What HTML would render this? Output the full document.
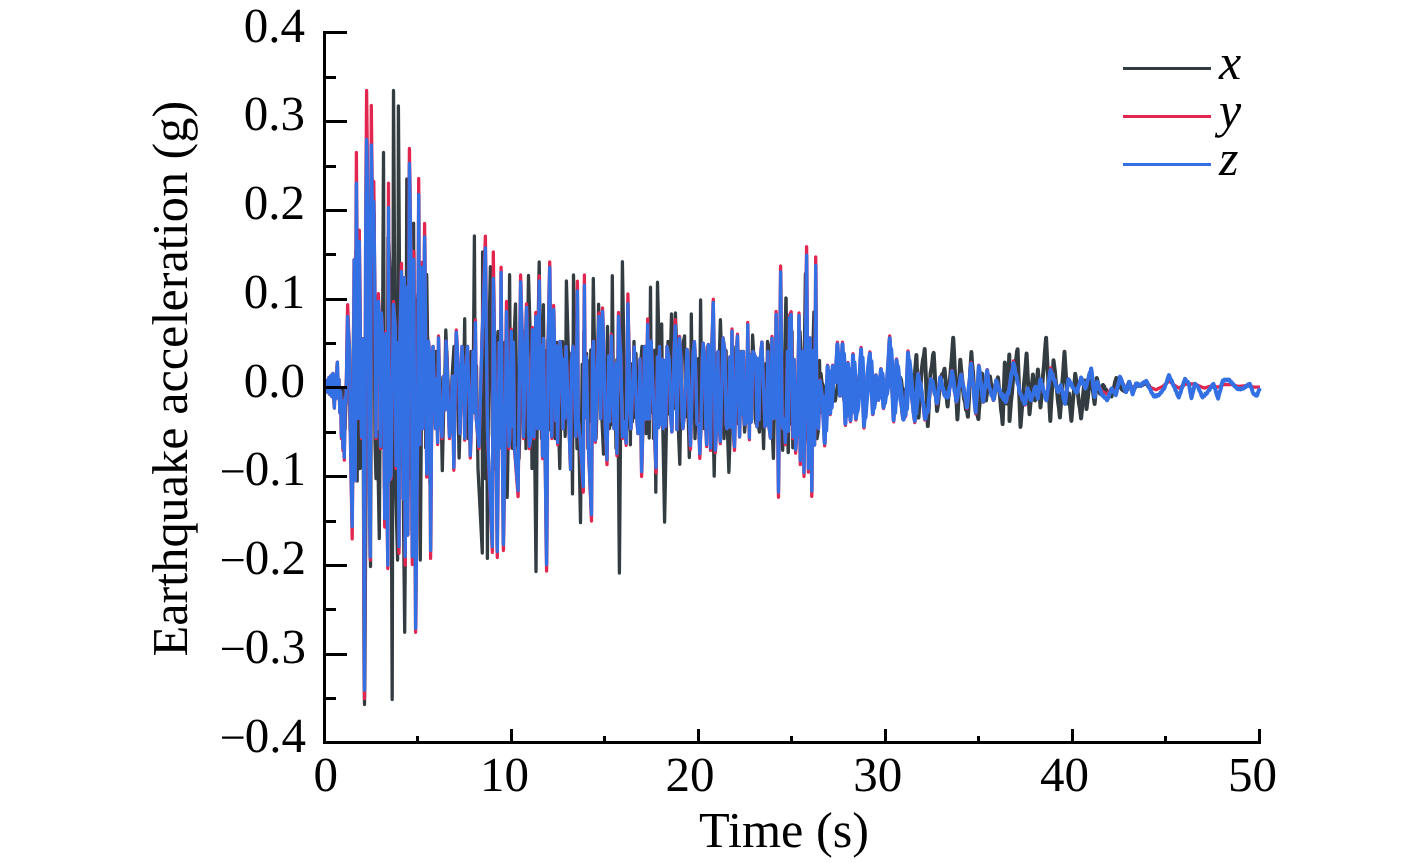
<!DOCTYPE html>
<html><head><meta charset="utf-8"><title>Earthquake acceleration</title>
<style>
html,body{margin:0;padding:0;background:#fff;}
body{width:1418px;height:863px;overflow:hidden;}
svg{display:block;}
text{font-family:"Liberation Serif",serif;fill:#000;text-rendering:geometricPrecision;}
.t{font-size:49px;}
.l{font-size:50.3px;}
.i{font-size:50px;font-style:italic;}
.w2{stroke-width:4 !important;}
.w{fill:none;stroke-width:3.3;stroke-linejoin:round;stroke-linecap:butt;}
</style></head><body>
<svg width="1418" height="863" viewBox="0 0 1418 863">
<rect width="1418" height="863" fill="#fff"/>
<polyline class="w" stroke="#333d41" points="325.0,386.0 327.0,390.0 329.0,382.0 331.0,391.0 333.0,383.0 335.0,392.6 337.0,379.4 339.0,392.0 341.0,397.6 343.0,388.0 345.0,428.6 346.0,401.4 347.0,365.8 348.0,331.4 349.1,357.7 350.3,429.0 352.0,448.6 353.7,315.5 354.7,461.0 356.0,251.4 357.2,481.0 358.2,244.1 359.2,431.2 360.0,468.6 361.5,458.2 362.7,338.7 364.5,704.6 365.8,522.3 367.0,260.0 368.0,301.4 369.2,226.2 370.5,566.6 371.6,245.1 373.0,216.4 374.0,213.1 375.0,442.2 376.0,478.6 377.4,431.4 379.3,538.6 380.8,324.1 382.0,447.5 383.5,152.4 384.5,488.5 385.7,357.8 387.0,428.6 388.2,237.5 389.5,259.4 390.5,289.1 392.2,699.6 393.5,90.4 395.0,329.1 396.0,498.6 397.6,560.1 398.4,105.8 399.9,332.6 401.0,468.6 402.5,318.4 403.4,506.3 404.7,632.3 405.6,507.6 406.8,178.9 407.8,496.3 408.9,249.5 410.0,478.6 411.3,266.0 412.3,530.6 413.6,223.1 414.8,501.9 415.9,299.2 417.0,498.6 418.1,294.1 419.2,446.9 420.3,560.1 421.2,439.2 422.3,305.2 423.5,301.4 424.6,293.7 425.7,447.7 426.7,274.5 427.5,335.1 429.2,361.8 430.2,483.7 431.0,438.6 436.0,351.4 437.7,378.8 438.9,411.7 440.1,376.9 441.1,408.4 442.3,470.6 443.6,411.6 444.9,374.7 445.8,330.0 450.0,428.6 451.0,407.5 452.3,373.5 454.0,346.4 455.7,407.8 456.9,378.5 458.1,410.9 459.1,458.0 460.6,411.1 461.9,376.7 463.2,404.6 464.7,318.7 465.5,411.4 466.8,377.0 468.0,438.6 469.3,375.9 471.0,351.4 471.9,377.5 473.0,408.9 474.4,235.8 475.3,413.3 476.5,365.9 478.0,468.6 482.3,553.0 482.6,251.8 485.0,478.6 486.6,348.4 487.4,558.4 488.8,344.6 490.4,266.6 491.3,345.8 492.4,434.1 494.0,468.6 495.0,436.0 496.3,356.4 498.0,331.4 502.0,448.6 503.4,439.7 504.6,342.2 505.9,445.3 507.2,497.4 508.3,433.0 509.6,274.7 510.6,423.1 511.7,358.7 512.5,448.6 513.8,344.0 515.5,303.8 517.2,441.0 519.0,458.6 523.0,331.4 524.5,350.9 526.0,448.6 528.5,275.5 530.9,357.7 532.0,468.6 533.4,353.9 534.4,421.6 536.0,571.6 537.7,349.5 539.2,261.8 541.5,438.6 543.4,304.6 544.7,434.6 545.7,350.8 547.0,468.6 548.0,340.3 549.1,429.9 551.0,331.4 552.6,355.9 553.6,432.7 555.0,438.6 555.9,419.0 557.0,342.3 558.3,418.1 559.8,468.5 560.6,419.3 561.7,356.7 562.5,341.4 565.2,436.4 566.4,280.8 568.4,353.8 570.0,438.6 571.0,353.7 572.5,493.9 573.5,274.9 577.0,448.6 578.5,418.0 580.5,522.7 582.2,364.2 583.2,411.9 584.0,331.4 585.7,417.7 586.6,353.3 588.0,448.6 588.8,360.9 589.8,421.4 590.8,349.9 592.0,417.6 593.3,278.3 596.0,438.6 596.9,414.2 598.6,304.2 602.0,420.5 603.5,454.1 604.3,417.4 605.4,361.7 606.7,410.6 607.5,326.4 609.5,428.6 610.3,355.9 611.3,424.8 612.3,275.7 613.6,413.8 614.9,364.3 616.0,448.6 616.9,359.5 618.0,410.3 619.4,573.1 620.6,424.0 621.6,358.7 622.4,261.7 624.1,364.0 625.1,414.6 626.0,438.6 627.5,416.0 628.9,352.4 630.4,444.8 631.2,363.9 632.4,421.7 634.0,341.4 634.9,417.5 636.0,353.5 638.0,428.6 639.5,413.5 640.8,361.4 642.0,346.4 643.1,363.3 646.0,433.6 646.9,414.2 648.1,353.3 649.2,438.1 650.5,287.2 651.4,412.2 652.5,351.6 653.5,438.6 654.7,350.2 655.8,492.2 657.5,282.2 659.2,352.2 660.0,418.6 661.7,324.0 662.7,421.3 664.6,522.2 668.0,341.4 669.1,413.8 670.4,360.1 671.5,313.8 672.6,363.6 673.5,408.6 675.4,313.0 677.1,357.5 678.2,424.9 679.8,464.3 680.6,416.7 681.6,350.6 684.6,335.8 685.6,416.7 686.9,352.6 688.1,413.4 689.3,457.5 690.5,421.9 691.3,313.8 692.6,416.6 693.8,362.5 695.0,438.6 698.3,358.7 699.6,421.4 700.6,299.8 701.9,421.6 702.9,358.9 704.0,428.6 705.0,359.4 706.3,425.0 708.0,346.4 709.8,350.7 710.8,423.9 711.8,352.4 714.2,476.1 715.3,411.3 716.6,353.3 717.9,414.4 719.2,360.7 720.4,319.7 721.4,350.8 722.6,410.7 724.0,438.6 725.0,414.1 726.1,350.6 727.1,421.5 728.9,472.4 733.0,346.4 736.7,418.7 738.0,423.6 739.1,411.6 740.1,353.9 741.0,351.4 742.5,353.3 743.7,412.1 744.6,432.1 746.1,413.3 747.2,362.4 748.0,351.4 749.6,357.0 750.6,420.2 752.6,335.0 754.2,362.9 755.2,419.2 756.0,423.6 757.7,422.1 759.4,432.1 760.2,415.9 761.5,351.4 762.4,413.4 763.6,448.7 764.4,413.4 765.7,363.7 766.7,418.7 767.5,341.4 770.4,354.1 771.6,415.0 773.4,458.4 775.3,361.7 777.0,346.4 777.8,352.2 778.9,417.3 782.7,450.4 785.9,297.8 786.1,298.1 788.1,452.4 788.3,452.5 789.5,359.6 790.7,423.8 792.0,331.4 792.8,447.8 794.2,362.7 796.0,438.6 797.9,434.5 799.2,360.6 800.0,331.4 801.3,359.6 803.0,458.6 805.4,273.7 806.2,358.7 807.3,435.1 809.0,448.6 810.5,351.1 811.7,436.2 812.7,356.7 813.9,311.8 814.7,362.2 815.9,437.2 817.0,438.6 818.2,431.8 819.5,360.5 820.6,412.4 821.0,373.4 822.0,382.9 823.0,386.5"/>
<polyline class="w w2" stroke="#333d41" points="822.0,382.9 823.0,386.5 824.0,398.2 825.0,403.6 826.0,395.8 827.0,393.5 828.0,385.1 829.0,383.2 830.0,375.4 831.0,378.3 832.0,386.7 833.0,388.9 834.0,396.9 835.0,400.6 836.0,393.4 837.0,390.8 838.0,382.9 839.0,380.2 840.0,373.4 841.0,377.3 842.0,386.4 843.0,388.9 844.0,398.0 845.0,402.6 846.0,396.1 847.0,393.2 848.0,384.8 849.0,383.0 850.0,376.4 851.0,379.1 852.0,388.1 853.0,389.5 854.0,397.9 855.0,400.6 856.0,393.3 857.0,391.0 858.0,382.1 859.0,380.7 860.0,373.4 861.0,377.2 862.0,386.5 863.0,389.4 864.0,398.0 865.0,402.6 866.0,396.2 867.0,393.6 868.0,385.1 869.0,382.7 870.0,376.4 871.0,379.4 872.0,386.7 873.0,387.7 874.0,395.8 875.0,398.6 876.0,393.1 877.0,392.8 878.0,385.9 879.0,385.4 880.0,379.4 881.0,380.9 882.0,388.3 883.0,388.6 884.0,395.1 885.0,396.6 886.0,390.2 887.0,388.4 888.0,381.5 889.0,379.3 890.0,373.4 891.0,377.5 892.0,386.2 893.0,387.6 894.0,397.3 895.0,400.6 896.0,394.5 897.0,393.0 898.0,384.7 899.0,383.3 900.0,377.4 901.0,379.7 902.0,387.9 903.0,389.0 904.0,396.5 905.0,398.6 906.0,393.3 907.0,392.7 908.0,385.0 909.0,384.7 910.0,379.4 911.0,382.8 912.0,391.0 913.0,394.6 914.0,381.7 915.0,372.5 916.4,355.0 917.0,371.1 918.5,417.7 920.0,395.7 921.5,371.4 923.0,359.4 924.0,355.3 924.7,349.0 926.0,379.3 927.0,407.8 927.8,426.1 929.0,401.5 930.5,373.4 932.0,365.4 933.0,355.4 933.7,352.9 935.0,377.7 936.0,391.2 937.0,410.9 938.0,405.0 939.0,393.9 940.0,388.9 941.0,379.4 942.0,374.3 943.0,374.8 944.5,368.8 946.0,385.1 947.0,401.5 947.6,406.6 949.0,388.9 950.5,373.4 952.0,355.0 953.2,337.7 954.0,352.0 955.0,374.2 956.0,390.0 957.4,419.4 958.0,408.8 959.0,384.8 960.3,359.7 961.0,368.3 962.0,376.2 963.0,390.0 964.0,398.6 965.0,401.8 966.0,409.9 967.0,410.6 967.9,416.8 969.0,398.3 970.0,376.0 971.4,352.1 972.0,362.1 973.0,372.2 974.0,388.8 975.0,400.6 976.0,404.2 977.0,412.8 978.4,419.0 979.0,409.6 980.0,400.5 981.0,385.0 982.0,373.4 983.0,381.6 984.0,385.2 985.0,395.4 986.0,400.6 987.0,392.7 988.0,390.5 989.0,381.0 990.0,376.4 991.0,383.9 992.0,385.5 993.0,394.5 994.0,398.6 995.0,391.2 996.0,389.9 997.0,380.5 998.0,377.4 999.0,389.2 1000.0,396.0 1001.0,409.1 1002.0,416.0 1002.6,424.1 1004.0,386.6 1004.8,362.6 1006.0,383.1 1007.0,403.6 1008.0,383.6 1009.3,354.6 1009.5,421.1 1011.0,401.6 1012.0,392.7 1013.5,373.4 1015.0,363.0 1016.0,360.4 1017.0,351.8 1017.6,349.3 1019.0,388.1 1020.5,426.9 1022.0,407.3 1023.0,398.3 1024.0,383.8 1025.0,374.1 1026.6,353.5 1028.0,381.8 1029.5,414.2 1031.0,397.8 1032.0,384.2 1032.9,374.6 1034.0,389.4 1035.0,400.6 1036.0,388.5 1037.0,380.3 1037.9,369.6 1039.0,384.8 1040.5,407.4 1042.0,389.9 1043.0,375.4 1044.0,365.3 1045.0,350.3 1046.1,337.7 1047.0,356.8 1048.0,374.5 1049.0,396.4 1050.3,420.9 1051.0,406.4 1052.0,390.2 1053.5,360.3 1055.0,372.3 1056.0,383.9 1057.0,390.6 1058.0,401.4 1059.0,408.3 1059.9,417.5 1061.0,403.2 1062.0,386.1 1063.0,374.4 1064.5,351.8 1066.0,377.0 1067.5,403.6 1069.0,393.6 1070.0,405.7 1071.4,420.9 1073.0,400.2 1074.0,389.6 1075.2,373.8 1076.0,379.0 1077.0,388.6 1078.0,394.1 1079.0,403.7 1080.0,408.9 1081.1,418.4 1082.0,409.2 1083.0,396.1 1084.5,380.6 1086.5,409.1 1088.0,396.6 1089.0,386.1 1090.5,373.4 1092.0,385.5 1093.0,391.3 1094.6,404.0 1096.0,388.4 1096.8,378.0 1098.0,383.1 1099.0,389.4 1100.0,393.6 1101.0,389.8 1102.0,388.5 1103.0,385.0 1104.0,386.2 1105.0,389.5 1106.0,389.6 1107.0,392.0 1108.0,393.7 1109.0,393.1 1110.0,395.7 1111.6,396.4 1113.0,390.0 1114.0,387.7 1115.0,382.3 1116.3,378.0 1117.0,380.1 1118.0,380.9 1119.0,384.5 1120.0,385.2 1121.0,388.0 1122.0,389.6 1123.0,389.1 1124.0,391.0 1125.0,390.5 1126.0,392.0 1127.0,389.6 1128.0,384.6 1129.0,382.0 1130.0,385.5 1131.0,386.6 1132.0,390.7 1133.0,392.6 1134.0,388.9 1135.0,387.6 1136.0,384.0 1137.0,383.8 1138.0,385.7 1139.0,384.6 1140.0,386.0 1141.0,386.0 1142.0,383.9 1143.0,384.7 1144.0,382.7 1145.0,383.8 1146.0,382.4 1147.0,383.2 1148.0,386.1 1149.0,385.6 1150.0,388.0"/>
<polyline class="w" stroke="#e2264f" points="325.0,385.0 326.0,391.0 327.0,380.4 328.0,392.6 329.0,377.4 330.0,394.6 331.0,375.4 332.0,396.6 333.0,373.4 333.8,398.6 334.4,408.0 335.2,375.4 336.0,398.6 336.7,373.4 337.4,362.1 338.2,396.6 339.0,379.4 339.8,412.6 340.6,392.0 341.4,438.6 342.2,400.6 343.0,450.6 343.7,406.6 344.3,460.2 345.2,396.6 346.0,403.1 347.6,304.6 349.5,350.9 350.6,449.0 352.2,538.9 353.0,438.4 354.2,259.6 355.2,480.7 356.4,152.4 358.0,418.6 359.3,230.2 361.5,438.6 363.2,339.0 364.5,698.6 365.6,242.7 366.6,90.4 368.0,214.3 369.0,468.6 370.3,560.1 371.3,105.3 372.4,213.9 373.8,181.4 374.7,276.5 376.0,438.6 376.9,308.5 378.4,293.6 379.2,316.9 380.5,448.6 381.4,313.0 382.6,335.1 383.7,355.5 384.7,527.1 386.0,331.4 386.9,488.9 387.8,568.6 388.5,183.1 389.3,480.5 391.0,478.6 393.5,301.4 395.2,326.3 396.0,468.6 397.7,343.0 399.0,553.3 399.8,340.8 401.5,263.4 403.2,499.0 404.3,277.7 405.2,565.2 406.8,287.2 407.8,535.0 409.4,148.4 411.4,287.8 412.3,564.6 413.8,251.4 415.6,632.3 417.4,462.5 418.7,178.4 419.8,444.5 421.6,262.4 422.8,428.6 424.6,223.4 425.4,302.3 426.7,477.1 427.5,357.3 428.5,341.4 429.6,356.3 430.6,558.4 432.1,362.9 433.0,346.4 435.5,428.6 436.6,378.4 437.6,444.5 438.5,336.0 440.1,413.4 442.0,438.6 443.9,376.0 445.1,409.9 446.1,341.0 449.5,438.6 451.2,414.4 452.5,376.2 453.8,470.3 456.3,330.0 458.9,378.3 460.0,433.6 462.0,346.4 463.7,377.3 464.7,440.2 465.8,376.5 467.5,346.4 468.3,373.2 469.4,407.1 470.3,458.0 471.7,414.0 473.0,351.4 474.0,412.3 475.4,319.9 476.3,419.1 479.0,448.6 482.0,341.4 485.4,236.1 486.5,348.4 487.5,430.6 488.5,458.6 492.4,552.4 493.3,251.8 494.7,353.5 495.8,425.0 497.3,557.6 499.2,342.4 500.3,447.2 501.1,267.1 502.3,440.2 503.4,550.6 504.9,448.1 506.5,301.3 509.0,448.6 509.8,438.0 511.3,329.2 512.3,426.0 513.4,342.1 514.5,448.6 518.1,496.6 520.6,275.0 522.3,340.7 523.5,438.6 526.5,303.8 527.5,347.0 528.6,432.6 529.5,448.6 530.9,436.2 532.4,327.5 534.0,438.6 535.8,312.3 537.5,428.6 539.2,275.9 540.1,428.8 541.2,346.2 542.5,458.6 543.5,338.4 544.8,427.6 546.6,571.1 548.2,339.0 549.7,261.8 551.8,438.6 553.6,305.5 554.7,350.0 555.8,420.7 556.8,345.9 557.6,444.8 560.0,341.4 561.6,359.6 563.0,428.6 564.0,359.3 565.0,418.2 566.0,346.4 570.6,469.4 571.4,361.7 573.0,346.4 573.8,362.4 575.9,436.4 577.4,281.1 578.3,419.7 580.0,438.6 583.3,492.2 584.4,274.9 585.3,416.7 586.4,356.6 588.0,438.6 591.5,521.0 592.5,351.7 593.5,341.4 595.4,442.3 599.0,313.0 600.7,418.6 602.5,307.9 603.9,351.1 605.2,425.8 607.0,464.6 608.7,356.0 609.7,421.7 611.4,334.1 614.0,428.6 615.8,363.1 616.9,455.8 618.5,312.4 620.8,357.5 622.5,438.6 624.1,421.7 626.2,445.3 627.9,294.0 629.0,351.4 630.0,414.1 631.0,428.6 634.3,346.8 636.7,418.2 638.0,433.6 638.9,420.5 640.0,358.8 641.6,476.5 643.3,412.3 644.5,346.4 645.9,419.1 647.7,318.9 648.5,419.0 649.5,418.6 651.2,340.9 656.0,472.8 657.5,356.8 658.7,427.5 659.5,346.4 661.1,424.0 662.2,359.2 663.0,428.6 664.7,360.5 665.7,426.2 667.0,346.4 669.3,359.2 670.5,413.1 671.9,431.8 674.0,352.7 675.3,319.7 676.9,429.6 678.6,353.5 679.5,336.4 680.9,357.6 682.1,416.7 683.0,428.6 684.4,413.1 687.0,349.4 688.1,354.5 689.2,416.3 690.5,449.1 693.1,352.9 694.4,341.7 695.4,361.2 697.0,423.6 698.8,426.1 699.8,458.4 701.0,426.5 702.3,357.7 703.2,343.1 704.5,354.5 705.8,424.9 706.6,446.5 708.3,344.3 709.4,354.4 710.5,450.4 711.7,350.9 713.3,299.1 715.4,452.5 716.6,425.9 718.0,351.4 718.8,415.4 720.4,443.7 723.0,338.0 724.9,350.3 726.1,424.4 727.0,428.6 728.5,422.9 729.8,356.8 730.8,427.4 732.0,329.0 733.1,427.0 734.5,450.3 735.3,414.4 736.3,354.2 737.5,334.1 739.6,436.9 741.1,352.0 742.2,414.5 743.5,351.4 744.4,424.6 745.5,423.6 746.8,420.3 747.7,322.3 749.4,439.8 750.2,355.2 751.3,422.0 753.0,351.4 755.7,357.6 757.0,426.6 757.9,358.4 759.0,419.8 760.2,359.2 761.9,342.1 765.0,426.6 766.4,423.0 768.0,351.4 768.8,425.2 770.5,438.1 772.0,336.3 774.0,418.6 775.2,414.8 776.1,311.3 777.7,416.5 778.5,497.3 780.6,265.9 782.2,422.0 783.0,428.6 784.3,418.8 785.3,444.8 786.3,417.0 787.5,351.4 788.5,431.1 789.5,315.5 791.2,311.8 793.0,438.6 794.1,359.3 795.6,453.2 797.2,428.4 799.0,313.0 800.3,464.7 802.0,351.4 803.1,351.2 804.0,476.6 806.6,246.6 808.4,472.2 810.1,338.0 811.8,496.4 813.3,350.3 814.6,445.1 815.7,256.8 817.0,424.0 818.5,428.6 820.0,380.0 822.5,398.1 824.7,445.8 827.6,365.2 830.2,414.7 832.7,365.2 835.2,380.0 837.4,342.1 840.0,396.0 842.5,342.1 845.4,425.4 847.9,362.5 850.5,421.8 853.0,353.7 855.9,420.0 858.6,393.1 861.1,347.4 864.0,428.0 867.4,375.0 869.9,351.9 872.8,414.7 875.9,375.0 878.4,400.4 880.9,368.7 883.5,408.5 886.9,384.1 889.7,335.8 893.6,421.8 896.5,358.9 899.6,391.3 902.9,419.1 905.5,416.5 908.0,351.0 911.4,394.9 914.8,422.7 918.2,373.2 921.6,391.3 924.9,420.0 928.3,409.3 930.9,378.6 933.7,387.7 937.1,404.0 940.2,376.8 944.4,395.2 948.6,396.0 952.0,370.5 956.3,402.2 961.3,374.1 966.9,408.5 971.2,362.5 975.7,413.8 978.8,365.2 983.3,402.2 987.2,369.7 989.3,387.7 993.5,400.4 996.0,380.3 1000.3,393.1 1006.2,402.2 1010.0,384.0 1013.4,361.0 1020.2,393.6 1025.2,405.0 1027.8,388.5 1031.2,400.3 1035.4,386.8 1037.9,398.6 1040.5,379.2 1046.4,400.3 1050.6,368.0 1058.2,391.9 1060.8,385.1 1065.0,403.7 1068.4,379.2 1073.5,388.5 1076.9,392.7 1081.1,377.5 1085.3,388.5 1091.2,368.5 1094.6,396.9 1097.2,381.7 1101.4,391.0 1107.0,394.0 1111.6,388.5 1115.8,392.0 1120.0,378.0 1125.9,389.0 1129.3,383.0 1132.7,391.0 1136.1,384.0 1140.3,386.0 1146.3,382.0 1150.0,387.2 1155.9,389.8 1162.7,386.4 1169.0,381.0 1172.8,384.0 1178.8,388.1 1186.4,383.8 1194.8,384.0 1204.1,388.1 1212.7,385.5 1217.7,387.2 1223.6,384.7 1232.0,384.7 1238.0,386.4 1249.8,385.5 1254.0,387.2 1260.0,387.2"/>
<polyline class="w" stroke="#3370e4" points="325.0,385.0 326.0,391.0 327.0,380.4 328.0,392.6 329.0,377.4 330.0,394.6 331.0,375.4 332.0,396.6 333.0,373.4 333.8,398.6 334.4,408.0 335.2,375.4 336.0,398.6 336.7,373.4 337.4,362.1 338.2,396.6 339.0,379.4 339.8,412.6 340.6,392.0 341.4,436.8 342.2,400.6 343.0,448.3 343.7,406.6 344.3,457.6 345.2,396.6 346.0,403.1 347.6,316.4 349.5,350.9 350.6,449.0 352.2,526.6 353.0,438.4 354.2,259.6 355.2,480.7 356.4,183.1 358.0,418.6 359.3,241.4 361.5,436.8 363.2,339.0 364.5,690.2 365.6,242.7 366.6,139.4 368.0,214.3 369.0,465.7 370.3,557.1 371.3,145.0 372.4,213.9 373.8,201.4 374.7,276.5 376.0,436.8 376.9,308.5 378.4,301.4 379.2,316.9 380.5,446.4 381.4,313.0 382.6,337.0 383.7,355.5 384.7,518.6 386.0,333.4 386.9,488.9 387.8,565.2 388.5,207.4 389.3,480.5 391.0,475.4 393.5,304.5 395.2,326.3 396.0,465.7 397.7,343.0 399.0,546.6 399.8,340.8 401.5,271.4 403.2,499.0 404.3,277.7 405.2,556.6 406.8,287.2 407.8,535.0 409.4,163.4 411.4,287.8 412.3,556.6 413.8,259.4 415.6,628.4 417.4,462.5 418.7,194.4 419.8,444.5 421.6,267.4 422.8,428.6 424.6,236.9 425.4,302.3 426.7,473.9 427.5,357.3 428.5,341.4 429.6,356.3 430.6,550.6 432.1,362.9 433.0,346.4 435.5,428.6 436.6,378.4 437.6,442.5 438.5,337.9 440.1,413.4 442.0,436.8 443.9,376.0 445.1,409.9 446.1,341.0 449.5,436.8 451.2,414.4 452.5,376.2 453.8,467.4 456.3,332.1 458.9,378.3 460.0,433.6 462.0,346.4 463.7,377.3 464.7,438.3 465.8,376.5 467.5,346.4 468.3,373.2 469.4,407.1 470.3,455.5 471.7,414.0 473.0,351.4 474.0,412.3 475.4,322.3 476.3,419.1 479.0,446.4 482.0,341.4 485.4,247.9 486.5,348.4 487.5,430.6 488.5,456.1 492.4,546.6 493.3,278.4 494.7,353.5 495.8,425.0 497.3,551.6 499.2,342.4 500.3,447.2 501.1,272.4 502.3,440.2 503.4,544.6 504.9,448.1 506.5,311.4 509.0,446.4 509.8,438.0 511.3,331.3 512.3,426.0 513.4,342.1 514.5,446.4 518.1,490.6 520.6,281.8 522.3,340.7 523.5,436.8 526.5,307.4 527.5,347.0 528.6,432.6 529.5,446.4 530.9,436.2 532.4,329.6 534.0,436.8 535.8,316.4 537.5,428.6 539.2,280.9 540.1,428.8 541.2,346.2 542.5,456.1 543.5,338.4 544.8,427.6 546.6,564.6 548.2,339.0 549.7,267.4 551.8,436.8 553.6,309.4 554.7,350.0 555.8,420.7 556.8,345.9 557.6,442.7 560.0,341.4 561.6,359.6 563.0,428.6 564.0,359.3 565.0,418.2 566.0,346.4 570.6,469.4 571.4,361.7 573.0,346.4 573.8,362.4 575.9,436.4 577.4,291.0 578.3,419.7 580.0,436.8 583.3,486.6 584.4,285.4 585.3,416.7 586.4,356.6 588.0,436.8 591.5,514.6 592.5,351.7 593.5,341.4 595.4,440.3 599.0,316.4 600.7,418.6 602.5,311.4 603.9,351.1 605.2,425.8 607.0,459.6 608.7,356.0 609.7,421.7 611.4,336.0 614.0,428.6 615.8,363.1 616.9,453.4 618.5,316.4 620.8,357.5 622.5,436.8 624.1,421.7 626.2,443.2 627.9,303.6 629.0,351.4 630.0,414.1 631.0,428.6 634.3,346.8 636.7,418.2 638.0,433.6 638.9,420.5 640.0,358.8 641.6,471.6 643.3,412.3 644.5,346.4 645.9,419.1 647.7,324.4 648.5,419.0 649.5,418.6 651.2,340.9 656.0,467.6 657.5,356.8 658.7,427.5 659.5,346.4 661.1,424.0 662.2,359.2 663.0,428.6 664.7,360.5 665.7,426.2 667.0,346.4 669.3,359.2 670.5,413.1 671.9,431.8 674.0,352.7 675.3,325.7 676.9,429.6 678.6,353.5 679.5,338.2 680.9,357.6 682.1,416.7 683.0,428.6 684.4,413.1 687.0,349.4 688.1,354.5 689.2,416.3 690.5,445.6 693.1,352.9 694.4,341.7 695.4,361.2 697.0,423.6 698.8,426.1 699.8,453.6 701.0,426.5 702.3,357.7 703.2,343.1 704.5,354.5 705.8,424.9 706.6,444.4 708.3,344.3 709.4,354.4 710.5,448.1 711.7,350.9 713.3,302.4 715.4,450.2 716.6,425.9 718.0,351.4 718.8,415.4 720.4,441.7 723.0,338.0 724.9,350.3 726.1,424.4 727.0,428.6 728.5,422.9 729.8,356.8 730.8,427.4 732.0,331.1 733.1,427.0 734.5,446.6 735.3,414.4 736.3,354.2 737.5,336.0 739.6,436.9 741.1,352.0 742.2,414.5 743.5,351.4 744.4,424.6 745.5,423.6 746.8,420.3 747.7,324.6 749.4,437.9 750.2,355.2 751.3,422.0 753.0,351.4 755.7,357.6 757.0,426.6 757.9,358.4 759.0,419.8 760.2,359.2 761.9,342.1 765.0,426.6 766.4,423.0 768.0,351.4 768.8,425.2 770.5,438.1 772.0,338.1 774.0,418.6 775.2,414.8 776.1,314.4 777.7,416.5 778.5,492.1 780.6,271.8 782.2,422.0 783.0,428.6 784.3,418.8 785.3,442.7 786.3,417.0 787.5,351.4 788.5,431.1 789.5,318.1 791.2,314.4 793.0,436.8 794.1,359.3 795.6,449.6 797.2,428.4 799.0,315.4 800.3,460.6 802.0,351.4 803.1,351.2 804.0,472.6 806.6,255.1 808.4,468.6 810.1,338.0 811.8,491.1 813.3,350.3 814.6,445.1 815.7,265.3 817.0,424.0 818.5,428.6 820.0,380.4 822.5,397.6"/>
<polyline class="w w2" stroke="#3370e4" points="824.0,395.4 825.0,413.0 826.2,430.8 827.0,412.7 828.0,395.3 829.1,371.0 830.0,382.7 831.0,399.7 831.7,407.7 833.0,387.3 834.2,371.0 835.0,376.0 836.0,377.0 836.7,382.0 838.0,367.0 838.9,353.8 840.0,369.1 841.5,393.8 843.0,371.6 844.0,353.8 845.0,374.1 846.0,398.2 846.9,415.7 848.0,393.8 849.4,368.9 850.0,381.0 851.0,394.6 852.0,413.0 853.0,394.7 854.5,362.4 856.0,386.5 857.4,411.7 858.0,408.7 859.0,397.8 860.1,391.6 861.0,380.5 862.0,364.7 862.6,357.7 864.0,388.6 865.5,417.6 867.0,398.9 868.0,390.2 868.9,378.2 870.0,369.3 871.4,361.1 872.0,372.3 873.0,384.9 874.3,407.7 875.0,403.0 876.0,389.7 877.4,378.2 878.0,384.4 879.0,389.1 879.9,397.1 881.0,388.7 882.4,373.5 883.0,378.8 884.0,393.5 885.0,403.1 886.0,395.9 887.0,394.1 888.4,385.0 889.0,376.2 890.0,366.4 891.2,349.1 892.0,361.1 893.0,380.4 894.0,393.6 895.1,413.0 896.0,399.8 897.0,380.6 898.0,366.3 899.0,375.1 900.0,380.1 901.1,390.3 902.0,397.7 903.0,400.9 904.4,411.0 905.0,412.5 906.0,408.3 907.0,409.0 908.0,390.9 909.5,360.4 911.0,373.7 912.0,385.5 912.9,393.0 914.0,398.0 915.0,406.9 916.3,413.6 917.0,404.2 918.0,396.6 919.0,382.5"/>
<polyline class="w w2" stroke="#3370e4" points="822.5,397.6 823.5,420.2 824.7,443.0 825.5,419.8 826.5,397.5 827.6,366.3 828.5,381.3 829.5,403.1 830.2,413.4 831.5,387.3 832.7,366.3 833.5,372.7 834.5,374.1 835.2,380.4 836.5,361.2 837.4,344.3 838.5,363.9 840.0,395.6 841.5,367.1 842.5,344.3 843.5,370.3 844.5,401.3 845.4,423.6 846.5,395.6 847.9,363.7 848.5,379.2 849.5,396.6 850.5,420.2 851.5,396.7 853.0,355.3 854.5,386.2 855.9,418.5 856.5,414.7 857.5,400.8 858.6,392.8 859.5,378.6 860.5,358.3 861.1,349.3 862.5,388.9 864.0,426.1 865.5,402.1 866.5,390.9 867.4,375.6 868.5,364.2 869.9,353.6 870.5,368.0 871.5,384.1 872.8,413.4 873.5,407.4 874.5,390.3 875.9,375.6 876.5,383.6 877.5,389.6 878.4,399.8 879.5,389.1 880.9,369.6 881.5,376.3 882.5,395.2 883.5,407.5 884.5,398.3 885.5,395.9 886.9,384.3 887.5,373.1 888.5,360.4 889.7,338.3 890.5,353.7 891.5,378.4 892.5,395.3 893.6,420.2 894.5,403.3 895.5,378.7 896.5,360.3 897.5,371.6 898.5,378.1 899.6,391.1 900.5,400.6 901.5,404.6 902.9,417.6 903.5,419.6 904.5,414.1 905.5,415.1 906.5,391.8 908.0,352.7 909.5,369.8 910.5,385.0 911.4,394.5 912.5,401.0 913.5,412.4 914.8,421.0 915.5,408.9 916.5,399.2 917.5,381.1 918.2,373.9 919.5,382.3 920.5,383.6 921.6,391.1 922.5,400.7 923.5,404.8 924.9,418.5 925.5,418.8 926.5,411.2 927.5,412.7 928.3,408.3 929.5,392.5 930.9,379.0 931.5,382.6 932.5,381.4 933.7,387.7 934.5,393.4 935.5,394.6 936.5,402.3 937.1,403.2 938.5,390.2 939.5,385.2 940.2,377.3 941.5,381.3 942.5,389.0 943.5,389.1 944.4,394.8 945.5,396.8 946.5,393.0 947.5,397.6 948.6,395.6 949.5,387.8 950.5,384.2 952.0,371.3 953.5,379.9 954.5,390.9 955.5,394.2 956.3,401.5 957.5,396.8 958.5,387.9 959.5,386.4 960.5,377.3 961.3,374.7 962.5,384.0 963.5,386.3 964.5,395.5 965.5,397.0 966.9,407.5 967.5,403.0 968.5,388.9 969.5,382.6 970.5,369.3 971.2,363.7 972.5,380.0 973.5,387.2 974.5,401.2 975.7,412.5 976.5,398.2 977.5,387.5 978.8,366.3 979.5,370.3 980.5,381.3 981.5,385.3 982.5,397.7 983.3,401.5 984.5,390.4 985.5,385.5 986.5,374.1 987.2,370.5 988.5,383.5 989.3,387.7 990.5,389.6 991.5,395.7 992.5,394.6 993.5,399.8 994.5,394.5 996.0,380.6 997.5,383.2 998.5,390.0 999.5,388.9 1000.3,392.8 1001.5,396.4 1002.5,394.2 1003.5,399.4 1004.5,396.5 1005.5,402.0 1006.2,401.5 1007.5,393.0 1008.5,393.4 1010.0,384.0 1011.5,372.7 1012.5,370.7 1013.4,363.1 1014.5,366.2 1015.5,374.5 1016.5,375.2 1017.5,383.1 1018.5,384.6 1019.5,391.9 1020.2,393.6 1021.5,395.1 1022.5,399.9 1023.5,399.0 1024.5,404.1 1025.2,403.7 1026.5,394.2 1027.8,388.5 1028.5,392.8 1029.5,392.6 1030.5,399.7 1031.2,400.3 1032.5,395.2 1033.5,394.6 1034.5,388.6 1035.4,386.8 1036.5,393.5 1037.9,398.6 1039.5,384.9 1040.5,379.2 1041.5,384.0 1042.5,385.2 1043.5,391.6 1044.5,392.2 1045.5,398.6 1046.4,400.3 1047.5,391.3 1048.5,386.4 1049.5,376.3 1050.6,369.9 1051.5,374.0 1052.5,373.8 1053.5,379.8 1054.5,379.7 1055.5,384.9 1056.5,385.7 1057.5,391.3 1058.2,391.9 1059.5,387.5 1060.8,385.1 1061.5,389.4 1062.5,391.6 1063.5,398.2 1065.0,403.7 1066.5,392.1 1067.5,386.5 1068.4,379.2 1069.5,380.5 1070.5,384.4 1071.5,383.6 1072.5,387.4 1073.5,388.5 1074.5,388.9 1075.5,391.8 1076.9,392.7 1078.5,385.9 1079.5,384.2 1081.1,377.5 1082.5,380.5 1083.5,384.7 1084.5,385.4 1085.3,388.5 1086.5,385.1 1087.5,380.4 1088.5,378.4 1089.5,373.3 1090.5,371.9 1091.2,368.5 1092.5,378.4 1093.5,388.6 1094.6,396.9 1095.5,390.9 1096.5,386.6 1097.2,381.7 1098.5,384.7 1099.5,389.1 1100.5,390.3 1101.4,393.6 1102.5,395.7 1103.5,395.3 1104.5,397.8 1105.5,397.8 1107.0,400.3 1108.5,397.4 1109.5,393.2 1110.5,392.2 1111.6,388.5 1112.5,389.4 1113.5,392.2 1114.5,392.6 1115.8,395.2 1116.5,392.8 1117.5,386.8 1118.5,384.0 1120.0,376.6 1121.5,379.8 1122.5,383.6 1123.5,385.0 1124.5,388.7 1125.9,391.9 1127.5,386.7 1128.5,384.6 1129.3,381.7 1130.5,385.4 1131.5,390.4 1132.7,394.4 1133.5,391.1 1134.5,389.0 1136.1,383.4 1137.5,383.5 1138.5,385.6 1139.5,384.8 1140.3,385.9 1141.5,385.3 1142.5,383.4 1143.5,383.8 1144.5,381.8 1145.5,382.0 1146.3,380.9 1147.5,383.0 1148.5,386.3 1149.6,388.5 1150.5,389.7 1151.5,392.8 1152.5,393.6 1153.8,396.5 1154.5,396.7 1155.5,395.4 1156.5,396.3 1157.5,394.9 1158.5,395.5 1159.3,394.8 1160.5,392.7 1161.5,392.3 1162.5,390.0 1163.5,389.5 1164.8,387.2 1165.5,384.7 1166.5,382.9 1167.5,379.0 1169.0,375.0 1170.5,379.1 1171.5,380.3 1172.8,383.8 1173.5,386.0 1174.5,387.0 1175.5,390.3 1176.5,391.8 1177.5,395.1 1178.8,397.4 1179.5,394.8 1180.5,392.9 1181.5,388.8 1182.5,386.9 1183.5,383.1 1185.1,378.8 1186.5,381.1 1187.5,381.5 1188.9,383.8 1190.5,393.1 1191.5,398.2 1192.5,393.3 1193.5,390.1 1194.8,383.8 1195.5,384.1 1196.5,385.9 1197.5,386.1 1198.2,387.2 1199.5,390.8 1200.5,392.2 1201.5,395.5 1202.5,397.4 1203.5,395.8 1204.5,395.8 1205.5,393.6 1206.5,393.8 1207.5,392.3 1208.5,390.4 1209.5,390.1 1210.5,387.4 1211.5,387.2 1212.5,384.7 1213.5,383.8 1214.5,387.7 1215.5,389.7 1216.5,394.1 1218.1,398.6 1219.5,392.8 1220.5,389.8 1221.5,384.9 1222.8,380.5 1223.5,381.1 1224.5,379.6 1225.5,380.5 1226.5,379.5 1227.5,380.2 1228.7,379.6 1229.5,379.9 1230.5,382.2 1231.5,382.0 1232.5,384.2 1233.5,384.3 1234.5,386.5 1235.5,386.6 1237.1,388.9 1238.5,389.3 1239.5,388.3 1240.5,389.4 1241.5,388.4 1242.2,388.9 1243.5,388.6 1244.5,387.0 1245.5,387.2 1246.5,385.5 1247.5,385.9 1248.5,384.2 1249.8,383.8 1250.5,386.4 1251.5,387.9 1252.5,391.6 1253.6,394.0 1254.5,394.0 1255.5,395.5 1257.0,395.7 1258.5,391.2 1260.0,388.1"/>
<path d="M324.5,31.0 V742.5 H1260.9" fill="none" stroke="#000" stroke-width="3" stroke-linejoin="miter"/>
<path d="M324.5,32.5 H347.0 M324.5,77.5 H336.0 M324.5,121.5 H347.0 M324.5,166.5 H336.0 M324.5,210.5 H347.0 M324.5,254.5 H336.0 M324.5,299.5 H347.0 M324.5,343.5 H336.0 M324.5,387.5 H347.0 M324.5,432.5 H336.0 M324.5,476.5 H347.0 M324.5,521.5 H336.0 M324.5,565.5 H347.0 M324.5,609.5 H336.0 M324.5,654.5 H347.0 M324.5,698.5 H336.0 M324.5,742.5 H347.0 M324.5,742.5 V729.0 M417.5,742.5 V736.0 M511.5,742.5 V729.0 M604.5,742.5 V736.0 M698.5,742.5 V729.0 M791.5,742.5 V736.0 M885.5,742.5 V729.0 M978.5,742.5 V736.0 M1072.5,742.5 V729.0 M1165.5,742.5 V736.0 M1259.5,742.5 V729.0" fill="none" stroke="#000" stroke-width="3"/>
<g class="t">
<text x="305" y="41.5" text-anchor="end">0.4</text>
<text x="305" y="130.2" text-anchor="end">0.3</text>
<text x="305" y="219.0" text-anchor="end">0.2</text>
<text x="305" y="307.8" text-anchor="end">0.1</text>
<text x="305" y="396.5" text-anchor="end">0.0</text>
<text x="306" y="485.2" text-anchor="end">0.1</text>
<text x="306" y="574.0" text-anchor="end">0.2</text>
<text x="306" y="662.8" text-anchor="end">0.3</text>
<text x="306" y="751.5" text-anchor="end">0.4</text>
<path d="M222,471.4 H243.5 M222,560.1 H243.5 M222,648.9 H243.5 M222,737.6 H243.5" stroke="#000" stroke-width="2.3" fill="none"/>
<text x="325.7" y="791.1" text-anchor="middle">0</text>
<text x="504.5" y="791.1" text-anchor="middle">10</text>
<text x="690.1" y="791.1" text-anchor="middle">20</text>
<text x="877.8" y="791.1" text-anchor="middle">30</text>
<text x="1064.4" y="791.1" text-anchor="middle">40</text>
<text x="1252.4" y="791.1" text-anchor="middle">50</text>
</g>
<text class="l" x="784" y="847" text-anchor="middle">Time (s)</text>
<text class="l" transform="translate(187,378.6) rotate(-90)" text-anchor="middle">Earthquake acceleration (g)</text>
<path d="M1123,68.5 H1211" stroke="#333d41" stroke-width="3" fill="none"/>
<path d="M1123,116.5 H1211" stroke="#e2264f" stroke-width="3" fill="none"/>
<path d="M1123,164.5 H1211" stroke="#3370e4" stroke-width="3" fill="none"/>
<text class="i" x="1219" y="79">x</text>
<text class="i" x="1219" y="127">y</text>
<text class="i" x="1219" y="175">z</text>
</svg>
</body></html>
